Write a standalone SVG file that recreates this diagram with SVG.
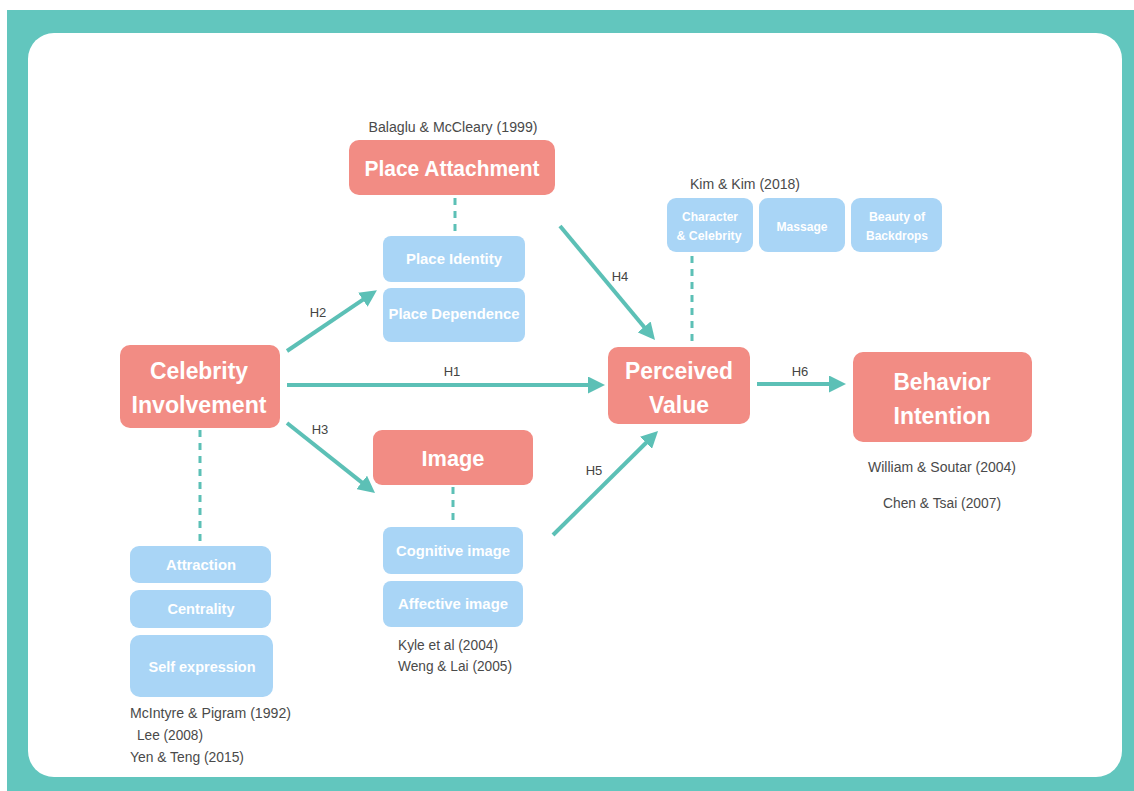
<svg xmlns="http://www.w3.org/2000/svg" width="1134" height="791" viewBox="0 0 1134 791">
  <defs>
    <marker id="head" viewBox="0 0 17 17" refX="2" refY="8.5" markerWidth="17" markerHeight="17" markerUnits="userSpaceOnUse" orient="auto">
      <path d="M0,0 L17,8.5 L0,17 z" fill="#5cc0b6"/>
    </marker>
    <style>
      .frame { fill: #62c6be; }
      .panel { fill: #ffffff; }
      .main { fill: #f28c84; }
      .sub { fill: #a9d5f6; }
      .mt { font-family: "Liberation Sans", Arial, sans-serif; font-weight: bold; fill: #ffffff; text-anchor: middle; }
      .st { font-family: "Liberation Sans", Arial, sans-serif; font-weight: bold; fill: #ffffff; text-anchor: middle; font-size: 14px; }
      .xs { font-size: 12px; }
      .cite { font-family: "Liberation Sans", Arial, sans-serif; fill: #4a4a4a; font-size: 14px; }
      .hl { font-family: "Liberation Sans", Arial, sans-serif; fill: #444444; font-size: 13px; text-anchor: middle; }
      .arrow { stroke: #5cc0b6; stroke-width: 4; fill: none; marker-end: url(#head); }
      .dash { stroke: #5cc0b6; stroke-width: 3; stroke-dasharray: 7 6; fill: none; }
    </style>
  </defs>

  <!-- frame and white panel -->
  <rect class="frame" x="7" y="10" width="1127" height="781"/>
  <rect class="panel" x="28" y="33" width="1094" height="744" rx="26" ry="26"/>

  <!-- connectors -->
  <g id="connectors">
    <line class="dash" x1="455" y1="198" x2="455" y2="233"/>
    <line class="dash" x1="200" y1="430" x2="200" y2="542"/>
    <line class="dash" x1="453" y1="487" x2="453" y2="523"/>
    <line class="dash" x1="692" y1="256" x2="692" y2="342"/>

    <line class="arrow" x1="287" y1="385" x2="590" y2="385"/>
    <line class="arrow" x1="287" y1="351" x2="364.5" y2="298.7"/>
    <line class="arrow" x1="287" y1="423" x2="363.3" y2="483.6"/>
    <line class="arrow" x1="560" y1="226" x2="645.4" y2="328.5"/>
    <line class="arrow" x1="553" y1="535" x2="647.4" y2="441.5"/>
    <line class="arrow" x1="757" y1="384" x2="831" y2="384"/>

    <text class="hl" x="452" y="376">H1</text>
    <text class="hl" x="318" y="317">H2</text>
    <text class="hl" x="320" y="434">H3</text>
    <text class="hl" x="620" y="281">H4</text>
    <text class="hl" x="594" y="475">H5</text>
    <text class="hl" x="800" y="376">H6</text>
  </g>

  <!-- place attachment -->
  <g id="place-attachment">
    <text class="cite" x="453" y="132" text-anchor="middle" textLength="169" lengthAdjust="spacingAndGlyphs">Balaglu &amp; McCleary (1999)</text>
    <rect class="main" x="349" y="140" width="206" height="55" rx="10"/>
    <text class="mt" x="452" y="176" font-size="22" textLength="175" lengthAdjust="spacingAndGlyphs">Place Attachment</text>
  </g>
  <g id="place-identity">
    <rect class="sub" x="383" y="236" width="142" height="46" rx="8"/>
    <text class="st" x="454" y="264" textLength="96" lengthAdjust="spacingAndGlyphs">Place Identity</text>
  </g>
  <g id="place-dependence">
    <rect class="sub" x="383" y="288" width="142" height="54" rx="8"/>
    <text class="st" x="454" y="319" textLength="131" lengthAdjust="spacingAndGlyphs">Place Dependence</text>
  </g>

  <!-- celebrity involvement -->
  <g id="celebrity-involvement">
    <rect class="main" x="120" y="345" width="160" height="83" rx="10"/>
    <text class="mt" x="199" y="379" font-size="24" textLength="98" lengthAdjust="spacingAndGlyphs">Celebrity</text>
    <text class="mt" x="199" y="413" font-size="24" textLength="135" lengthAdjust="spacingAndGlyphs">Involvement</text>
  </g>
  <g id="attraction">
    <rect class="sub" x="130" y="546" width="141" height="37" rx="9"/>
    <text class="st" x="201" y="570" textLength="70" lengthAdjust="spacingAndGlyphs">Attraction</text>
  </g>
  <g id="centrality">
    <rect class="sub" x="130" y="590" width="141" height="38" rx="9"/>
    <text class="st" x="201" y="614" textLength="67" lengthAdjust="spacingAndGlyphs">Centrality</text>
  </g>
  <g id="self-expression">
    <rect class="sub" x="130" y="635" width="143" height="62" rx="10"/>
    <text class="st" x="202" y="672" textLength="107" lengthAdjust="spacingAndGlyphs">Self expression</text>
  </g>
  <g id="involvement-sources">
    <text class="cite" x="130" y="718" textLength="161" lengthAdjust="spacingAndGlyphs">McIntyre &amp; Pigram (1992)</text>
    <text class="cite" x="137" y="740" textLength="66" lengthAdjust="spacingAndGlyphs">Lee (2008)</text>
    <text class="cite" x="130" y="762" textLength="114" lengthAdjust="spacingAndGlyphs">Yen &amp; Teng (2015)</text>
  </g>

  <!-- image -->
  <g id="image">
    <rect class="main" x="373" y="430" width="160" height="55" rx="9"/>
    <text class="mt" x="453" y="466" font-size="22" textLength="63" lengthAdjust="spacingAndGlyphs">Image</text>
  </g>
  <g id="cognitive-image">
    <rect class="sub" x="383" y="527" width="140" height="47" rx="8"/>
    <text class="st" x="453" y="556" textLength="114" lengthAdjust="spacingAndGlyphs">Cognitive image</text>
  </g>
  <g id="affective-image">
    <rect class="sub" x="383" y="581" width="140" height="46" rx="8"/>
    <text class="st" x="453" y="609" textLength="110" lengthAdjust="spacingAndGlyphs">Affective image</text>
  </g>
  <g id="image-sources">
    <text class="cite" x="398" y="650" textLength="100" lengthAdjust="spacingAndGlyphs">Kyle et al (2004)</text>
    <text class="cite" x="398" y="671" textLength="114" lengthAdjust="spacingAndGlyphs">Weng &amp; Lai (2005)</text>
  </g>

  <!-- perceived value -->
  <g id="perceived-value">
    <rect class="main" x="608" y="347" width="142" height="77" rx="10"/>
    <text class="mt" x="679" y="379" font-size="24" textLength="108" lengthAdjust="spacingAndGlyphs">Perceived</text>
    <text class="mt" x="679" y="413" font-size="24" textLength="60" lengthAdjust="spacingAndGlyphs">Value</text>
  </g>
  <g id="value-sources">
    <text class="cite" x="690" y="189" textLength="110" lengthAdjust="spacingAndGlyphs">Kim &amp; Kim (2018)</text>
  </g>
  <g id="character-celebrity">
    <rect class="sub" x="667" y="198" width="86" height="54" rx="9"/>
    <text class="st xs" x="710" y="221" textLength="56" lengthAdjust="spacingAndGlyphs">Character</text>
    <text class="st xs" x="709" y="240" textLength="65" lengthAdjust="spacingAndGlyphs">&amp; Celebrity</text>
  </g>
  <g id="massage">
    <rect class="sub" x="759" y="198" width="86" height="54" rx="9"/>
    <text class="st xs" x="802" y="231" textLength="51" lengthAdjust="spacingAndGlyphs">Massage</text>
  </g>
  <g id="beauty-of-backdrops">
    <rect class="sub" x="851" y="198" width="91" height="54" rx="9"/>
    <text class="st xs" x="897" y="221" textLength="56" lengthAdjust="spacingAndGlyphs">Beauty of</text>
    <text class="st xs" x="897" y="240" textLength="62" lengthAdjust="spacingAndGlyphs">Backdrops</text>
  </g>

  <!-- behavior intention -->
  <g id="behavior-intention">
    <rect class="main" x="853" y="352" width="179" height="90" rx="10"/>
    <text class="mt" x="942" y="390" font-size="24" textLength="97" lengthAdjust="spacingAndGlyphs">Behavior</text>
    <text class="mt" x="942" y="424" font-size="24" textLength="97" lengthAdjust="spacingAndGlyphs">Intention</text>
  </g>
  <g id="intention-sources">
    <text class="cite" x="942" y="472" text-anchor="middle" textLength="148" lengthAdjust="spacingAndGlyphs">William &amp; Soutar (2004)</text>
    <text class="cite" x="942" y="508" text-anchor="middle" textLength="118" lengthAdjust="spacingAndGlyphs">Chen &amp; Tsai (2007)</text>
  </g>
</svg>
